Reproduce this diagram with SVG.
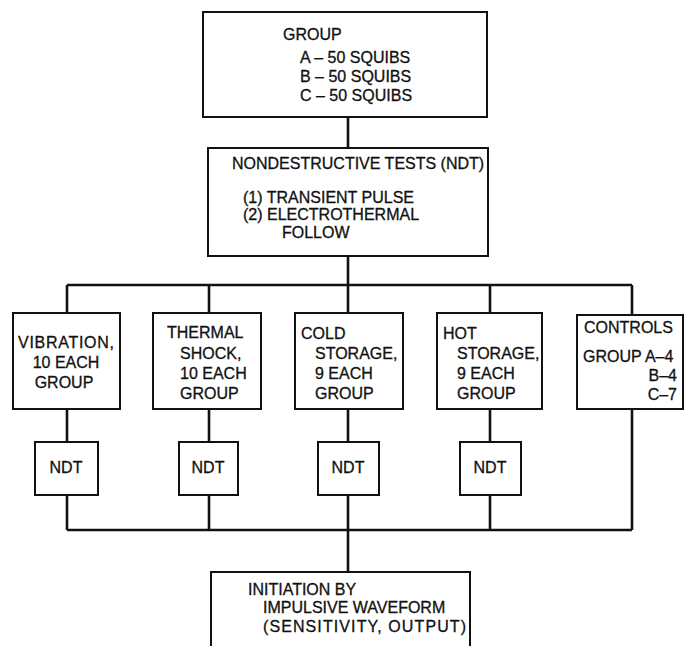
<svg xmlns="http://www.w3.org/2000/svg" width="692" height="646" viewBox="0 0 692 646">
<style>
.box{fill:#fff;stroke:#111;stroke-width:2}
.ln{fill:none;stroke:#111;stroke-width:2.6}
text{font-family:"Liberation Sans",Arial,sans-serif;font-size:16px;fill:#111;stroke:#111;stroke-width:0.3}
.m{text-anchor:middle}
.e{text-anchor:end}
</style>
<rect width="692" height="646" fill="#fff"/>
<g id="connectors">
<path class="ln" d="M348 117V148M348 256V285M67 285H632M67 285V313M209 285V313M348 285V313M490 285V313M632 285V315"/>
<path class="ln" d="M67 409V442M209 409V442M348 409V442M490 409V442"/>
<path class="ln" d="M67 495V530M209 495V530M348 495V530M490 495V530M632 409V530M67 530H632M348 530V572"/>
</g>
<g id="group">
<rect class="box" x="203" y="12" width="284" height="105"/>
<text x="283" y="40">GROUP</text>
<text x="300" y="63">A – 50 SQUIBS</text>
<text x="300" y="82">B  – 50 SQUIBS</text>
<text x="300" y="101">C – 50 SQUIBS</text>
</g>
<g id="ndt-main">
<rect class="box" x="208" y="148" width="280" height="108"/>
<text x="232" y="169" font-size="15.4">NONDESTRUCTIVE TESTS (NDT)</text>
<text x="243" y="203">(1)  TRANSIENT PULSE</text>
<text x="243" y="220">(2)  ELECTROTHERMAL</text>
<text x="282" y="238">FOLLOW</text>
</g>
<g id="vibration">
<rect class="box" x="13" y="313" width="107" height="96"/>
<text class="m" x="66" y="348" textLength="96">VIBRATION,</text>
<text class="m" x="66" y="368">10 EACH</text>
<text class="m" x="64" y="388">GROUP</text>
</g>
<g id="thermal">
<rect class="box" x="153" y="313" width="108" height="96"/>
<text x="167" y="338">THERMAL</text>
<text x="180" y="359">SHOCK,</text>
<text x="180" y="379">10 EACH</text>
<text x="180" y="399">GROUP</text>
</g>
<g id="cold">
<rect class="box" x="295" y="313" width="108" height="96"/>
<text x="301" y="339">COLD</text>
<text x="315" y="359">STORAGE,</text>
<text x="315" y="379">9 EACH</text>
<text x="315" y="399">GROUP</text>
</g>
<g id="hot">
<rect class="box" x="437" y="313" width="105" height="96"/>
<text x="443" y="339">HOT</text>
<text x="457" y="359">STORAGE,</text>
<text x="457" y="379">9 EACH</text>
<text x="457" y="399">GROUP</text>
</g>
<g id="controls">
<rect class="box" x="577" y="315" width="106" height="94"/>
<text x="584" y="333">CONTROLS</text>
<text x="583" y="362">GROUP A–4</text>
<text class="e" x="677" y="381">B–4</text>
<text class="e" x="677" y="400">C–7</text>
</g>
<g id="ndt1">
<rect class="box" x="35" y="442" width="63" height="53"/>
<text class="m" x="66" y="473">NDT</text>
</g>
<g id="ndt2">
<rect class="box" x="179" y="442" width="59" height="53"/>
<text class="m" x="208" y="473">NDT</text>
</g>
<g id="ndt3">
<rect class="box" x="318" y="442" width="61" height="53"/>
<text class="m" x="348" y="473">NDT</text>
</g>
<g id="ndt4">
<rect class="box" x="460" y="442" width="61" height="53"/>
<text class="m" x="490" y="473">NDT</text>
</g>
<g id="initiation">
<rect class="box" x="211" y="572" width="259" height="90"/>
<text x="248" y="595">INITIATION BY</text>
<text x="263" y="613">IMPULSIVE WAVEFORM</text>
<text x="263" y="632" textLength="203">(SENSITIVITY,  OUTPUT)</text>
</g>
</svg>
